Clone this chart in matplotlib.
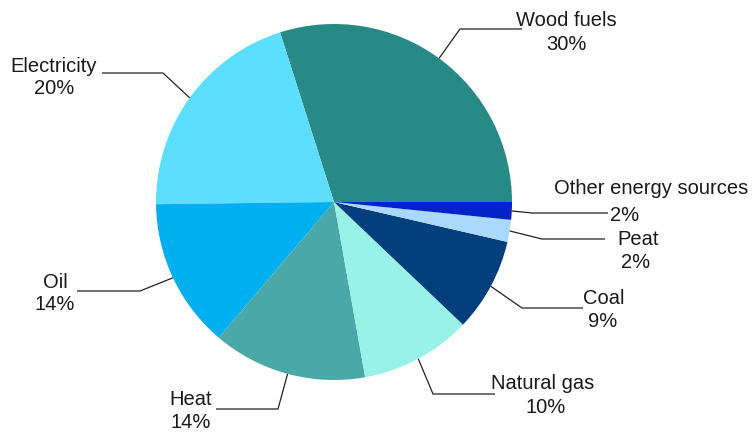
import numpy as np
import matplotlib.pyplot as plt

plt.rcParams['font.family'] = ['Liberation Sans', 'DejaVu Sans']

# energy consumption shares, counter-clockwise from 3 o'clock
sources = ['Wood fuels', 'Electricity', 'Oil', 'Heat', 'Natural gas', 'Coal', 'Peat',
           'Other energy sources']
shares = [29.9, 20.3, 13.6, 14.0, 10.1, 8.5, 2.0, 1.6]
shown_pct = [30, 20, 14, 14, 10, 9, 2, 2]
colors = ['#278a87', '#5bdeff', '#00aff0', '#4aa8a8', '#98f2e8', '#033f7d', '#aad9ff', '#0022c8']

W, H = 752, 435
cx, cy, r = 334, 203, 178

# label layout in pixel coords (y from top): name pos, pct pos, elbow, line end x
layout = [
    ((566, 20), (566, 45), (460, 30), 522),
    ((54, 66), (54, 88), (163, 74), 102),
    ((55, 282), (55, 304), (140, 292), 77),
    ((191, 400), (191, 423), (278, 410), 216),
    ((543, 384), (546, 408), (433, 395), 495),
    ((604, 298), (603, 322), (522, 309), 583),
    ((638, 240), (636, 263), (542, 240), 605),
    ((651, 189), (625, 216), (532, 214), 608),
]

fig = plt.figure(figsize=(W / 100, H / 100), dpi=100)
ax = fig.add_axes([0, 0, 1, 1])

wedges, _ = ax.pie(shares, colors=colors, startangle=0, counterclock=True,
                   center=(cx, H - cy), radius=r, normalize=True,
                   wedgeprops=dict(linewidth=0))

for w, name, pct, (npos, ppos, elbow, endx) in zip(wedges, sources, shown_pct, layout):
    mid = np.deg2rad((w.theta1 + w.theta2) / 2)
    ex = cx + r * np.cos(mid)
    ey = (H - cy) + r * np.sin(mid)
    ax.plot([ex, elbow[0], endx], [ey, H - elbow[1], H - elbow[1]],
            color='#222222', lw=0.9, solid_capstyle='butt')
    ax.text(npos[0], H - npos[1], name, ha='center', va='center',
            fontsize=14.5, color='#1a1a1a')
    ax.text(ppos[0], H - ppos[1], f'{pct}%', ha='center', va='center',
            fontsize=14.5, color='#1a1a1a')

# pie() resets the limits, so set the pixel frame afterwards
ax.set_xlim(0, W)
ax.set_ylim(0, H)
ax.set_aspect('equal')
ax.axis('off')
fig.savefig('out.png', dpi=100)
